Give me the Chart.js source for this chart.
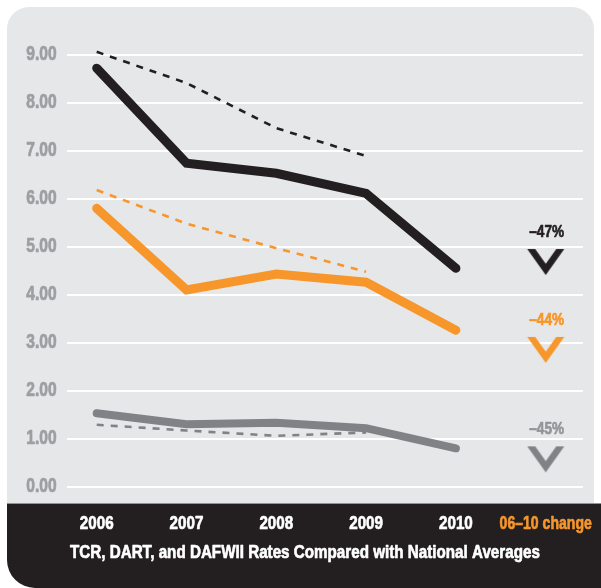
<!DOCTYPE html>
<html>
<head>
<meta charset="utf-8">
<script src="https://cdn.jsdelivr.net/npm/chart.js@4.4.1/dist/chart.umd.min.js"></script>
<style>
html,body{margin:0;padding:0;background:#ffffff;}
#wrap{width:601px;height:588px;}
</style>
</head>
<body>
<div id="wrap"><canvas id="c" width="601" height="588"></canvas></div>
<script>
// ---- data ----
const categories = ['2006', '2007', '2008', '2009', '2010', '06–10 change'];
const tcr            = [8.72, 6.74, 6.53, 6.11, 4.55, null];
const tcrNational    = [9.06, 8.41, 7.47, 6.89, null, null];
const dart           = [5.80, 4.10, 4.43, 4.26, 3.26, null];
const dartNational   = [6.18, 5.48, 4.97, 4.48, null, null];
const dafwii         = [1.53, 1.30, 1.33, 1.22, 0.80, null];
const dafwiiNational = [1.29, 1.17, 1.06, 1.13, null, null];
const changeLabels   = ['–47%', '–44%', '–45%'];
const changeAnchor   = [4.68, 2.85, 0.57];
const yTickValues    = [0, 1, 2, 3, 4, 5, 6, 7, 8, 9];
const chartTitle     = 'TCR, DART, and DAFWII Rates Compared with National Averages';

// ---- styles ----
const BLACK = '#231f20', ORANGE = '#f7962b', GRAY = '#808285', GRAYTXT = '#939598';
const FAMILY = "'Liberation Sans', Arial, sans-serif";
const SX = 0.8; // horizontal condensing of the bold face

function makeChevron(color) {
  const c = document.createElement('canvas');
  c.width = 40; c.height = 28;
  const g = c.getContext('2d');
  g.fillStyle = color;
  g.beginPath();
  g.moveTo(1.5, 1); g.lineTo(9.5, 1); g.lineTo(20, 15.8); g.lineTo(30.5, 1);
  g.lineTo(38.5, 1); g.lineTo(20, 27); g.closePath();
  g.fill();
  return c;
}

function onlyLast(v) { return categories.map((_, i) => i === categories.length - 1 ? v : null); }

const solid = (data, color, w) => ({
  data, borderColor: color, borderWidth: w, pointRadius: 0, tension: 0,
  borderCapStyle: 'round', borderJoinStyle: 'miter', clip: false
});
const dashed = (data, color) => ({
  data, borderColor: color, borderWidth: 2.6, borderDash: [7, 7], pointRadius: 0,
  tension: 0, borderCapStyle: 'butt', clip: false
});
const chevron = (v, color) => ({
  data: onlyLast(v), showLine: false, pointStyle: makeChevron(color), pointRadius: 10,
  borderColor: color, backgroundColor: color, clip: false, isChevron: true
});

const chevronColors = [BLACK, ORANGE, GRAY];
const chevronTextColors = [BLACK, ORANGE, GRAYTXT];

function condensedText(ctx, text, x, y, align, size, color, sx) {
  ctx.save();
  ctx.font = 'bold ' + size + 'px ' + FAMILY;
  ctx.fillStyle = color;
  ctx.strokeStyle = color;
  ctx.lineWidth = 0.7;
  ctx.lineJoin = 'round';
  ctx.textAlign = align;
  ctx.textBaseline = 'middle';
  ctx.translate(x, y);
  ctx.scale(sx, 1);
  ctx.fillText(text, 0, 0);
  ctx.strokeText(text, 0, 0);
  ctx.restore();
}

const bgPlugin = {
  id: 'bg',
  beforeDraw(chart) {
    const ctx = chart.ctx;
    ctx.save();
    ctx.fillStyle = '#e6e7e8';
    ctx.beginPath();
    ctx.roundRect(7, 7, 587, 510, [22, 22, 0, 0]);
    ctx.fill();
    ctx.fillStyle = BLACK;
    ctx.beginPath();
    ctx.roundRect(7, 503, 594, 85, [0, 0, 0, 28]);
    ctx.fill();
    ctx.fillStyle = '#8f9194';
    ctx.fillRect(7, 503, 594, 1);
    ctx.restore();
  },
  beforeDatasetsDraw(chart) {
    const ctx = chart.ctx, y = chart.scales.y;
    ctx.save();
    ctx.strokeStyle = '#ffffff';
    ctx.lineWidth = 2;
    yTickValues.forEach(v => {
      const py = Math.round(y.getPixelForValue(v));
      ctx.beginPath();
      ctx.moveTo(67, py); ctx.lineTo(583, py);
      ctx.stroke();
    });
    ctx.restore();
  },
  afterDraw(chart) {
    const ctx = chart.ctx, xs = chart.scales.x, ys = chart.scales.y;
    yTickValues.forEach(v => {
      condensedText(ctx, v.toFixed(2), xs.left - 40, ys.getPixelForValue(v), 'right', 19.5, '#9d9fa2', SX);
    });
    categories.forEach((lab, i) => {
      const last = i === categories.length - 1;
      condensedText(ctx, lab, xs.getPixelForValue(i), 524, 'center', 19, last ? ORANGE : '#ffffff', last ? 0.74 : SX);
    });
    let k = 0;
    chart.data.datasets.forEach((ds, i) => {
      if (!ds.isChevron) return;
      const pt = chart.getDatasetMeta(i).data[categories.length - 1];
      condensedText(ctx, changeLabels[k], pt.x + 1, pt.y - 30, 'center', 17, chevronTextColors[k], SX);
      k++;
    });
    condensedText(ctx, chartTitle, 70, 553, 'left', 19, '#ffffff', 0.8);
  }
};

new Chart(document.getElementById('c'), {
  type: 'line',
  data: {
    labels: categories,
    datasets: [
      solid(tcr, BLACK, 9),
      solid(dart, ORANGE, 9),
      solid(dafwii, GRAY, 8),
      dashed(tcrNational, BLACK),
      dashed(dartNational, ORANGE),
      dashed(dafwiiNational, GRAY),
      chevron(changeAnchor[0], chevronColors[0]),
      chevron(changeAnchor[1], chevronColors[1]),
      chevron(changeAnchor[2], chevronColors[2])
    ]
  },
  options: {
    responsive: false,
    animation: false,
    devicePixelRatio: 1,
    layout: { padding: { top: 54.7, right: 55.3, left: 0, bottom: 0 } },
    plugins: { legend: { display: false }, tooltip: { enabled: false }, title: { display: false } },
    scales: {
      x: {
        type: 'category',
        offset: false,
        grid: { display: false, drawTicks: false },
        border: { display: false },
        ticks: { display: false },
        afterFit(axis) { axis.height = 101.3; axis.paddingLeft = 0; axis.paddingRight = 0; }
      },
      y: {
        min: 0, max: 9,
        grid: { display: false, drawTicks: false },
        border: { display: false },
        ticks: { display: false },
        afterFit(axis) { axis.width = 96.7; axis.paddingTop = 0; axis.paddingBottom = 0; }
      }
    }
  },
  plugins: [bgPlugin]
});
</script>
</body>
</html>
